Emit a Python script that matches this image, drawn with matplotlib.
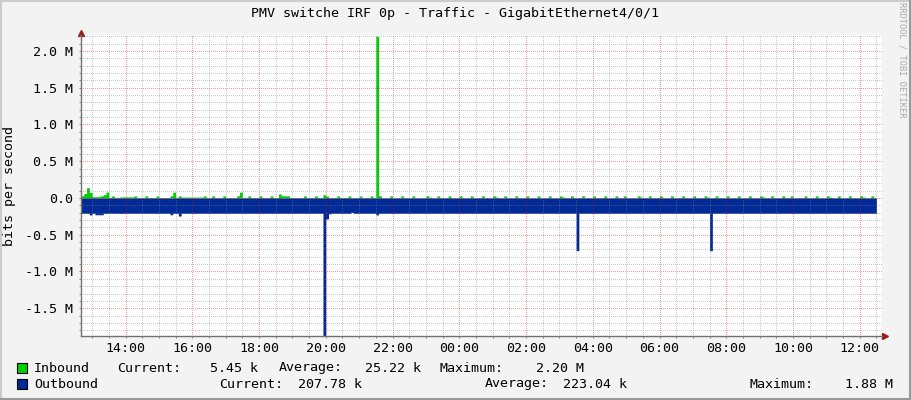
import numpy as np
import matplotlib
matplotlib.use('Agg')
import matplotlib.pyplot as plt
from matplotlib.patches import Rectangle
from matplotlib.ticker import FixedLocator, FixedFormatter, MultipleLocator

W, H = 911, 400
nan = np.nan

# 5 minute samples starting at 12:40, values in kbit/s
start_hour = 12 + 40 / 60
step_hours = 5 / 60

inbound_k = [
    30, 60, 140, 75, 18, 18, 18, 30, 45, 80, 10, 28, 8, 8, 15, 15, 15, 15, 15, 28, 8, 8, 8, 28,
    6, 6, 6, 28, 6, 6, 6, 6, 30, 80, 10, 28, 12, 12, 12, 12, 12, 12, 12, 12, 28, 6, 6, 28,
    6, 6, 6, 28, 6, 6, 6, 6, 30, 80, 8, 8, 28, 6, 6, 6, 28, 6, 6, 6, 28, 6, 6, 55,
    30, 30, 30, 6, 6, 6, 6, 6, 28, 6, 6, 6, 28, 6, 6, 45, 25, 6, 6, 6, 28, 6, 6, 6,
    28, 4, 4, 4, 28, 4, 4, 4, 28, 4, 2200, 30, 4, 4, 4, 28, 4, 4, 4, 28, 4, 4, 4, 28,
    4, 4, 4, 4, 30, 12, 4, 4, 28, 4, 4, 4, 28, 4, 4, 4, 28, 4, 4, 4, 28, 4, 4, 4,
    28, 4, 4, 4, 28, 12, 4, 4, 28, 4, 4, 4, 28, 4, 4, 4, 28, 4, 4, 4, 28, 4, 4, 4,
    28, 4, 4, 4, 28, 12, 4, 4, 28, 4, 4, 4, 28, 4, 4, 4, 28, 4, 4, 4, 28, 4, 4, 4,
    28, 4, 4, 28, 4, 4, 4, 4, 28, 12, 4, 4, 28, 4, 4, 4, 28, 4, 4, 4, 28, 4, 4, 4,
    28, 4, 4, 4, 28, 4, 4, 4, 28, 12, 4, 4, 28, 4, 4, 4, 28, 4, 4, 4, 28, 4, 4, 4,
    28, 4, 4, 4, 28, 12, 4, 4, 28, 4, 4, 4, 28, 4, 4, 28, 4, 4, 4, 4, 28, 4, 4, 4,
    28, 4, 4, 4, 28, 12, 4, 4, 28, 4, 4, 4, 28, 4, 4, 4, 28, 12, 4, 4, 28, 4, 5.45, nan,
]

outbound_k = [
    208, 208, 208, 230, 208, 228, 228, 228, 208, 208, 207, 208, 208, 208, 209, 208, 208, 208, 208, 208, 208, 207, 208, 208,
    208, 208, 208, 208, 208, 208, 208, 208, 228, 208, 208, 245, 208, 208, 208, 208, 208, 208, 208, 208, 208, 208, 208, 208,
    208, 208, 208, 208, 208, 208, 208, 208, 208, 208, 208, 208, 208, 208, 208, 208, 208, 208, 208, 208, 208, 208, 208, 208,
    208, 208, 208, 208, 208, 208, 208, 208, 208, 208, 208, 208, 208, 208, 208, 1880, 285, 215, 208, 208, 208, 208, 208, 208,
    208, 195, 208, 208, 208, 208, 208, 208, 208, 208, 230, 208, 208, 208, 208, 208, 208, 208, 208, 208, 208, 208, 208, 208,
    208, 208, 208, 208, 208, 208, 208, 208, 208, 208, 208, 208, 208, 208, 208, 208, 208, 208, 208, 208, 208, 208, 208, 208,
    208, 208, 208, 208, 208, 208, 208, 208, 208, 208, 208, 208, 208, 208, 208, 208, 208, 208, 208, 208, 208, 208, 208, 208,
    208, 208, 208, 208, 208, 208, 208, 208, 208, 208, 717, 208, 208, 208, 208, 208, 208, 208, 208, 208, 208, 208, 208, 208,
    208, 208, 208, 208, 208, 208, 208, 208, 208, 208, 208, 208, 208, 208, 208, 208, 208, 208, 208, 208, 208, 208, 208, 208,
    208, 208, 208, 208, 208, 208, 208, 208, 208, 208, 717, 208, 208, 208, 208, 208, 208, 208, 208, 208, 208, 208, 208, 208,
    208, 208, 208, 208, 208, 208, 208, 208, 208, 208, 208, 208, 208, 208, 208, 208, 208, 208, 208, 208, 208, 208, 208, 208,
    208, 208, 208, 208, 208, 208, 208, 208, 208, 208, 208, 208, 208, 208, 208, 208, 208, 208, 208, 208, 208, 208, 207.78, nan,
]

ytick_vals = [-1.5e6, -1.0e6, -0.5e6, 0.0, 0.5e6, 1.0e6, 1.5e6, 2.0e6]
ytick_labels = ['-1.5 M', '-1.0 M', '-0.5 M', '0.0', '0.5 M', '1.0 M', '1.5 M', '2.0 M']
xtick_hours = [14, 16, 18, 20, 22, 24, 26, 28, 30, 32, 34, 36]
xtick_labels = ['14:00', '16:00', '18:00', '20:00', '22:00', '00:00',
                '02:00', '04:00', '06:00', '08:00', '10:00', '12:00']

title = 'PMV switche IRF 0p - Traffic - GigabitEthernet4/0/1'
in_stats = ['5.45 k', '25.22 k', '2.20 M']
out_stats = ['207.78 k', '223.04 k', '1.88 M']

IN_COLOR = '#00CF00'
OUT_COLOR = '#002A97'

plt.rcParams['font.family'] = 'DejaVu Sans Mono'
FS = 9.6


def fx(x):
    return x / W


def fy(y):
    return 1 - y / H


fig = plt.figure(figsize=(W / 100, H / 100), dpi=100, facecolor='#F3F3F3')
ax = fig.add_axes([fx(81), fy(336), (882 - 81) / W, (336 - 35) / H])
ax.set_facecolor('white')

n = len(inbound_k)
edges = start_hour + step_hours * np.arange(n + 1)
inb = np.array(inbound_k + [inbound_k[-1]], dtype=float) * 1e3
outb = -np.array(outbound_k + [outbound_k[-1]], dtype=float) * 1e3

ax.fill_between(edges, 0, inb, step='post', color=IN_COLOR, linewidth=0, zorder=1)
ax.fill_between(edges, 0, outb, step='post', color=OUT_COLOR, linewidth=0, zorder=1)

ax.set_xlim(start_hour, start_hour + 24)
ax.set_ylim(-(336 - 198) / 73.5 * 1e6, (198 - 35) / 73.5 * 1e6)

ax.xaxis.set_major_locator(FixedLocator(xtick_hours))
ax.xaxis.set_major_formatter(FixedFormatter(xtick_labels))
ax.xaxis.set_minor_locator(MultipleLocator(0.5))
ax.yaxis.set_major_locator(FixedLocator(ytick_vals))
ax.yaxis.set_major_formatter(FixedFormatter(ytick_labels))
ax.yaxis.set_minor_locator(MultipleLocator(1e5))

# rrdtool draws the grid on top of the data, semi transparent and dotted
ax.set_axisbelow(False)
ax.grid(which='minor', color='#808080', alpha=0.42, linestyle=(0, (1, 2)), linewidth=0.72, antialiased=False)
ax.grid(which='major', color='#FF0000', alpha=0.42, linestyle=(0, (1, 2)), linewidth=0.72, antialiased=False)

ax.tick_params(which='both', direction='out', length=1.5, width=0.72, color='#808080')
ax.tick_params(axis='y', which='major', labelsize=FS, pad=4)
ax.tick_params(axis='x', which='major', labelsize=FS, pad=2.5)

for side in ['top', 'right']:
    ax.spines[side].set_visible(False)
for side in ['left', 'bottom']:
    ax.spines[side].set_color('#707070')
    ax.spines[side].set_linewidth(1.0)

# axis arrows
ax.plot([1.004], [0], marker='>', markersize=4, color='#9A1C1C', transform=ax.transAxes, clip_on=False)
ax.plot([0], [1.008], marker='^', markersize=4, color='#9A1C1C', transform=ax.transAxes, clip_on=False)

fig.text(fx(455), fy(14), title, ha='center', va='center', fontsize=FS)
fig.text(fx(10), fy(186), 'bits per second', rotation=90, ha='center', va='center', fontsize=FS)
fig.text(fx(902), fy(60), 'RRDTOOL / TOBI OETIKER', rotation=-90, ha='center', va='center',
         fontsize=6.2, color='#A8A8A8')

# legend
for ypix, color in [(368, IN_COLOR), (384, OUT_COLOR)]:
    fig.add_artist(Rectangle((fx(17), fy(ypix + 5)), 10 / W, 10 / H, facecolor=color,
                             edgecolor='black', linewidth=0.8, transform=fig.transFigure))

fig.text(fx(34), fy(368), 'Inbound', va='center', fontsize=FS)
fig.text(fx(117), fy(368), 'Current:', va='center', fontsize=FS)
fig.text(fx(258), fy(368), in_stats[0], va='center', ha='right', fontsize=FS)
fig.text(fx(279), fy(368), 'Average:', va='center', fontsize=FS)
fig.text(fx(421), fy(368), in_stats[1], va='center', ha='right', fontsize=FS)
fig.text(fx(440), fy(368), 'Maximum:', va='center', fontsize=FS)
fig.text(fx(584), fy(368), in_stats[2], va='center', ha='right', fontsize=FS)

fig.text(fx(34), fy(384), 'Outbound', va='center', fontsize=FS)
fig.text(fx(219), fy(384), 'Current:', va='center', fontsize=FS)
fig.text(fx(362), fy(384), out_stats[0], va='center', ha='right', fontsize=FS)
fig.text(fx(485), fy(384), 'Average:', va='center', fontsize=FS)
fig.text(fx(627), fy(384), out_stats[1], va='center', ha='right', fontsize=FS)
fig.text(fx(749), fy(384), 'Maximum:', va='center', fontsize=FS)
fig.text(fx(893), fy(384), out_stats[2], va='center', ha='right', fontsize=FS)

# image frame
fig.add_artist(plt.Line2D([0, 1], [fy(1), fy(1)], color='#CCCCCC', linewidth=1.5, transform=fig.transFigure))
fig.add_artist(plt.Line2D([fx(1), fx(1)], [0, 1], color='#CCCCCC', linewidth=1.5, transform=fig.transFigure))
fig.add_artist(plt.Line2D([0, 1], [fy(399), fy(399)], color='#9A9A9A', linewidth=1.5, transform=fig.transFigure))
fig.add_artist(plt.Line2D([fx(910), fx(910)], [0, 1], color='#9A9A9A', linewidth=1.5, transform=fig.transFigure))

fig.savefig('out.png', dpi=100, facecolor=fig.get_facecolor())
